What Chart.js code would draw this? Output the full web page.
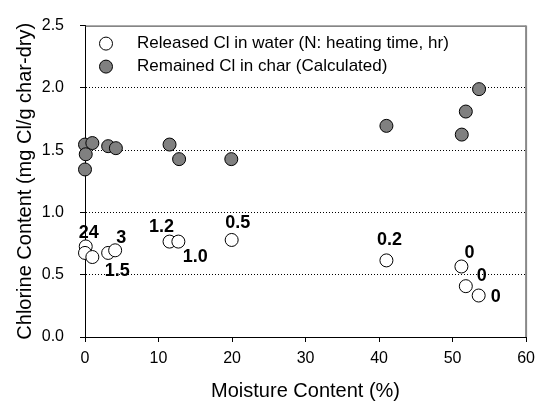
<!DOCTYPE html>
<html>
<head>
<meta charset="utf-8">
<script src="https://cdn.jsdelivr.net/npm/chart.js@4"></script>
<style>
  html, body { margin: 0; padding: 0; background: #fff; }
  #wrap { width: 542px; height: 403px; }
</style>
</head>
<body>
<div id="wrap"><canvas id="chloride-canvas" width="542" height="403"></canvas></div>
<script>
// Выделившийся Cl в воде (N: время нагрева, ч)
const releasedX = [0.1, 0, 1.0, 3.15, 4.1, 11.5, 12.7, 19.95, 41.0, 51.2, 51.8, 53.55];
const releasedY = [0.727, 0.675, 0.642, 0.675, 0.696, 0.766, 0.766, 0.779, 0.615, 0.566, 0.408, 0.333];
const heatingLabels = ['24', '', '', '1.5', '3', '1.2', '1.0', '0.5', '0.2', '0', '0', '0'];

// Оставшийся Cl в угле (расчёт)
const remainedX = [0, 1.0, 0.1, 0, 3.15, 4.2, 11.5, 12.8, 19.9, 41.0, 51.25, 51.8, 53.6];
const remainedY = [1.545, 1.557, 1.467, 1.345, 1.532, 1.516, 1.545, 1.428, 1.428, 1.695, 1.625, 1.81, 1.99];

const seriesNames = ['Released Cl in water (N: heating time, hr)', 'Remained Cl in char (Calculated)'];
const xTicks = [0, 10, 20, 30, 40, 50, 60];
const yTicks = [0, 0.5, 1.0, 1.5, 2.0, 2.5];

// Сдвиги подписей относительно точек (px)
const labelOffsets = [[3, -13], [0, 0], [0, 0], [9, 18], [6, -12], [-8, -15], [17, 15], [6, -17], [3, -20], [8, -13], [16, -10], [17, 2]];

const FONT = '"Liberation Sans", Arial, sans-serif';

const toPoints = (xs, ys) => xs.map((x, i) => ({ x: x, y: ys[i] }));

// Рамка графика + подписи точек + легенда внутри области
const extrasPlugin = {
  id: 'extras',
  afterDatasetsDraw(chart) {
    const { ctx, chartArea: a } = chart;
    ctx.save();
    // верхняя и правая границы
    ctx.lineWidth = 1;
    ctx.strokeStyle = '#333';
    ctx.beginPath();
    ctx.moveTo(a.left, a.top + 0.5);
    ctx.lineTo(a.right, a.top + 0.5);
    ctx.stroke();
    ctx.lineWidth = 2;
    ctx.strokeStyle = '#888';
    ctx.beginPath();
    ctx.moveTo(a.right, a.top);
    ctx.lineTo(a.right, a.bottom);
    ctx.stroke();

    // подписи времени нагрева
    const meta = chart.getDatasetMeta(0);
    ctx.fillStyle = '#000';
    ctx.font = 'bold 18px ' + FONT;
    ctx.textAlign = 'center';
    ctx.textBaseline = 'middle';
    meta.data.forEach((pt, i) => {
      const txt = heatingLabels[i];
      if (!txt) return;
      const off = labelOffsets[i];
      ctx.fillText(txt, pt.x + off[0], pt.y + off[1]);
    });

    // легенда
    ctx.font = '17px ' + FONT;
    ctx.textAlign = 'left';
    chart.data.datasets.forEach((ds, i) => {
      const y = a.top + 18 + i * 23;
      ctx.beginPath();
      ctx.arc(a.left + 21, y, 6.5, 0, Math.PI * 2);
      ctx.fillStyle = ds.backgroundColor;
      ctx.fill();
      ctx.lineWidth = 1;
      ctx.strokeStyle = ds.borderColor;
      ctx.stroke();
      ctx.fillStyle = '#000';
      ctx.fillText(seriesNames[i], a.left + 52, y);
    });
    ctx.restore();
  }
};

const ctx = document.getElementById('chloride-canvas').getContext('2d');

window.chlorideChart = new Chart(ctx, {
  type: 'scatter',
  data: {
    datasets: [{
      label: seriesNames[0],
      data: toPoints(releasedX, releasedY),
      backgroundColor: '#ffffff',
      borderColor: '#000000',
      borderWidth: 1,
      pointRadius: 6.5,
      pointHoverRadius: 6.5,
      clip: false
    }, {
      label: seriesNames[1],
      data: toPoints(remainedX, remainedY),
      backgroundColor: '#808080',
      borderColor: '#000000',
      borderWidth: 1,
      pointRadius: 6.5,
      pointHoverRadius: 6.5,
      clip: false
    }]
  },
  options: {
    responsive: false,
    animation: false,
    events: [],
    layout: { padding: { top: 16, right: 13, left: 0, bottom: 0 } },
    plugins: {
      legend: { display: false },
      tooltip: { enabled: false }
    },
    scales: {
      x: {
        type: 'linear',
        min: 0,
        max: 60,
        afterFit: (scale) => { scale.height = 66; },
        afterBuildTicks: (scale) => { scale.ticks = xTicks.map(v => ({ value: v })); },
        ticks: {
          color: '#000',
          padding: 7,
          maxRotation: 0,
          font: { family: FONT, size: 16 }
        },
        grid: {
          drawOnChartArea: false,
          tickLength: 5,
          tickColor: '#000',
          color: '#000'
        },
        border: { display: true, color: '#000', width: 1 },
        title: {
          display: true,
          text: 'Moisture Content (%)',
          color: '#000',
          padding: { top: 0, bottom: 0 },
          font: { family: FONT, size: 20 }
        }
      },
      y: {
        type: 'linear',
        min: 0,
        max: 2.5,
        afterFit: (scale) => { scale.width = 85; },
        afterBuildTicks: (scale) => { scale.ticks = yTicks.map(v => ({ value: v })); },
        ticks: {
          color: '#000',
          padding: 16,
          font: { family: FONT, size: 16 },
          callback: (v) => Number(v).toFixed(1)
        },
        grid: {
          color: (c) => (c.tick && (c.tick.value === 0 || c.tick.value === 2.5)) ? 'rgba(0,0,0,0)' : '#000',
          lineWidth: 1,
          tickLength: 5,
          tickColor: '#000'
        },
        border: { display: true, color: '#000', width: 1, dash: [1, 2] },
        title: {
          display: true,
          text: 'Chlorine Content (mg Cl/g char-dry)',
          color: '#000',
          padding: { top: 13, bottom: 0 },
          font: { family: FONT, size: 20 }
        }
      }
    }
  },
  plugins: [extrasPlugin]
});
</script>
</body>
</html>
